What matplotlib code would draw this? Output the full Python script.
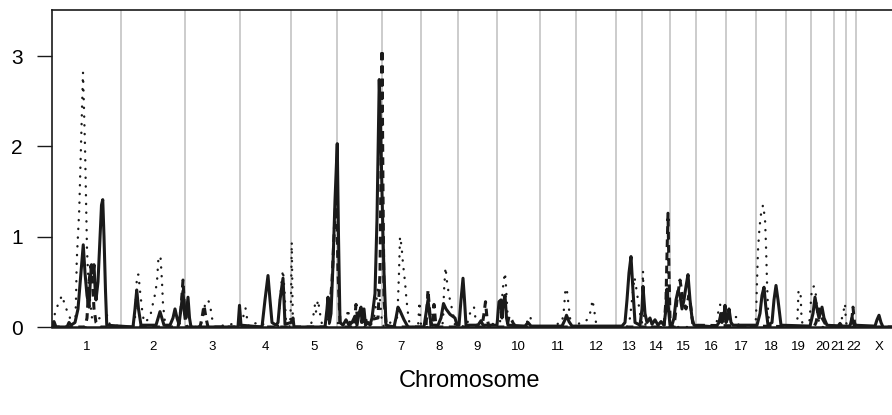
import matplotlib
matplotlib.use("Agg")
import matplotlib.pyplot as plt
import numpy as np

plt.rcParams['font.family'] = ['Liberation Sans Narrow', 'Liberation Sans', 'DejaVu Sans']

# chromosome names and genetic lengths (cM)
chroms = ['1', '2', '3', '4', '5', '6', '7', '8', '9', '10', '11', '12',
          '13', '14', '15', '16', '17', '18', '19', '20', '21', '22', 'X']
chrom_len = [276, 256, 220, 204, 184, 180, 156, 148, 156, 172, 144, 160,
             104, 112, 104, 120, 120, 120, 100, 92, 48, 40, 184]

# LOD curves along the genome (cumulative cM)
solid_pos = [0, 8, 16, 60, 68, 76, 92, 104, 116, 125, 132, 140, 148, 154, 158, 164, 168, 172, 176,
             184, 192, 198, 203, 208, 214, 219,
             324, 332, 339, 346, 356, 416, 432, 448, 472, 484, 492, 500, 508, 516, 524, 530, 536,
             544, 550, 556, 744, 750, 756,
             840, 852, 864, 872, 880, 896, 904, 912, 924, 928, 932,
             956, 964, 968, 1092, 1100, 1104, 1110, 1116, 1124, 1132, 1141, 1146, 1152,
             1164, 1176, 1188, 1200, 1212, 1220, 1228, 1236, 1240, 1248, 1254, 1264, 1272, 1280,
             1292, 1300, 1309, 1316, 1324, 1328, 1336,
             1368, 1376, 1384, 1392, 1408, 1424,
             1488, 1496, 1504, 1512, 1520, 1544, 1556, 1566, 1576, 1592, 1612, 1620,
             1628, 1636, 1644, 1650, 1656, 1704, 1716, 1724,
             1780, 1788, 1796, 1800, 1804, 1812, 1818, 1824, 1892, 1904, 1916,
             2040, 2052, 2058, 2068, 2080,
             2280, 2292, 2300, 2308, 2316, 2324, 2332, 2352, 2360, 2364, 2372, 2380, 2392, 2400,
             2412, 2424, 2436, 2448, 2456, 2460, 2466, 2472,
             2480, 2488, 2496, 2504, 2512, 2520, 2528, 2536, 2544, 2552, 2560, 2568,
             2656, 2668, 2676, 2680, 2688, 2692, 2696, 2704, 2708, 2716, 2724,
             2820, 2832, 2840, 2848, 2856, 2864, 2880, 2888, 2896, 2904, 2916,
             3032, 3044, 3052, 3060, 3068, 3080, 3088, 3100, 3144, 3152, 3160,
             3192, 3200, 3208, 3292, 3300, 3308, 3316, 3324, 3400]
solid_lod = [0, 0.06, 0, 0, 0.05, 0.02, 0.05, 0.2, 0.6, 0.91, 0.6, 0.35, 0.22, 0.55, 0.69, 0.6, 0.69, 0.45, 0.3,
             0.5, 1.0, 1.35, 1.41, 1.0, 0.4, 0.02,
             0, 0.2, 0.41, 0.2, 0.02, 0.02, 0.17, 0.02, 0.02, 0.1, 0.2, 0.1, 0.03, 0.2, 0.4, 0.15, 0.1,
             0.33, 0.1, 0, 0, 0.24, 0.02,
             0, 0.3, 0.57, 0.3, 0.05, 0.02, 0.05, 0.3, 0.54, 0.3, 0.03,
             0.05, 0.1, 0, 0, 0.2, 0.33, 0.05, 0.15, 0.7, 1.4, 2.03, 1.0, 0.05,
             0.02, 0.08, 0.02, 0.05, 0.12, 0.02, 0.15, 0.22, 0.05, 0.2, 0.02, 0.05, 0.02, 0.1,
             0.37, 1.2, 2.74, 2.0, 1.0, 0.6, 0.02,
             0, 0.1, 0.22, 0.18, 0.08, 0,
             0, 0.15, 0.3, 0.1, 0.02, 0.02, 0.1, 0.26, 0.2, 0.14, 0.1, 0.02,
             0.02, 0.3, 0.54, 0.3, 0.02, 0.02, 0.07, 0.02,
             0.02, 0.28, 0.3, 0.1, 0.25, 0.35, 0.1, 0.02, 0.01, 0.05, 0.01,
             0.01, 0.08, 0.13, 0.06, 0.01,
             0.01, 0.05, 0.3, 0.6, 0.78, 0.4, 0.05, 0.02, 0.2, 0.45, 0.15, 0.05, 0.1, 0.03,
             0.08, 0.02, 0.06, 0.02, 0.2, 0.42, 0.2, 0.02,
             0.02, 0.1, 0.3, 0.4, 0.35, 0.2, 0.3, 0.45, 0.58, 0.3, 0.1, 0.02,
             0, 0.05, 0.15, 0.05, 0.12, 0.24, 0.05, 0.1, 0.2, 0.05, 0.02,
             0.02, 0.15, 0.35, 0.44, 0.2, 0.02, 0.05, 0.3, 0.46, 0.3, 0.02,
             0.01, 0.15, 0.33, 0.2, 0.1, 0.22, 0.1, 0.02, 0.01, 0.04, 0.01,
             0.01, 0.1, 0.02, 0.01, 0.08, 0.13, 0.05, 0, 0]

dashed_pos = [0, 132, 140, 148, 156, 162, 168, 176, 192,
              504, 516, 524, 532, 540, 592, 600, 608, 616, 624,
              1096, 1108, 1120, 1128, 1138, 1144, 1152, 1168, 1208, 1216, 1224,
              1304, 1312, 1317, 1320, 1324, 1328, 1336, 1344,
              1496, 1500, 1504, 1510, 1516, 1520, 1528, 1536,
              1720, 1728, 1734, 1740, 1748, 1820, 1828, 1840, 1852,
              2448, 2456, 2460, 2464, 2468, 2472, 2476,
              2488, 2500, 2512, 2524, 2536, 2548, 2556, 2564,
              3048, 3056, 3068, 3080, 3096, 3192, 3200, 3204, 3210, 3216, 3400]
dashed_lod = [0, 0, 0.1, 0.5, 0.68, 0.5, 0.2, 0.05, 0,
              0, 0.2, 0.52, 0.1, 0, 0, 0.1, 0.24, 0.1, 0,
              0, 0.1, 0.5, 1.0, 1.55, 0.6, 0.05, 0, 0, 0.25, 0.05,
              0.1, 0.6, 2.0, 3.07, 1.5, 0.3, 0.05, 0,
              0, 0.2, 0.41, 0.2, 0, 0, 0.25, 0,
              0, 0.15, 0.28, 0.1, 0, 0, 0.12, 0.07, 0,
              0, 0.3, 0.8, 1.26, 0.6, 0.1, 0,
              0, 0.3, 0.52, 0.3, 0.2, 0.35, 0.2, 0.02,
              0, 0.05, 0.2, 0.1, 0.02, 0, 0.1, 0.22, 0.05, 0, 0]

dotted_pos = [0, 12, 24, 40, 52, 64, 72, 84, 94, 96, 99, 109, 116, 124, 128, 132, 136, 140, 146,
              152, 160, 176, 192, 208, 220, 232,
              324, 332, 336, 340, 346, 352, 360, 368, 392, 400, 408, 420, 426, 434, 440, 444, 452, 472,
              592, 604, 612, 624, 632, 640, 648,
              760, 768, 774, 780, 788, 812, 840, 852, 904, 912, 920, 924, 930, 936,
              952, 956, 959, 962, 964, 1032, 1044, 1052, 1056, 1064, 1072, 1080,
              1176, 1184, 1192, 1204, 1272, 1288, 1296, 1304, 1312, 1320, 1328,
              1380, 1384, 1388, 1392, 1398, 1404, 1412, 1418, 1424, 1432,
              1464, 1470, 1474, 1480, 1552, 1564, 1568, 1574, 1580, 1588, 1596, 1604, 1612,
              1656, 1668, 1676, 1688, 1696, 1704,
              1792, 1800, 1806, 1812, 1816, 1820, 1824, 1896, 1904, 1912, 1920, 1928,
              2016, 2024, 2040, 2048, 2054, 2060, 2066, 2072, 2080,
              2096, 2112, 2132, 2148, 2156, 2162, 2168, 2176, 2184,
              2300, 2312, 2324, 2330, 2336, 2344, 2352, 2360, 2364, 2368, 2376,
              2656, 2664, 2672, 2680, 2688, 2700, 2724, 2732, 2740, 2748,
              2812, 2816, 2820, 2824, 2830, 2836, 2844, 2852, 2856, 2860, 2864, 2868, 2876,
              2976, 2982, 2986, 2994, 2998, 3004,
              3028, 3036, 3040, 3048, 3054, 3060, 3068, 3076,
              3152, 3160, 3168, 3172, 3176, 3184, 3400]
dotted_lod = [0.05, 0.15, 0.25, 0.35, 0.24, 0.15, 0.1, 0.08, 0.1, 0.3, 0.74, 1.3, 2.0, 2.82, 2.4, 2.0, 1.41, 0.85, 0.5,
              0.3, 0.1, 0.08, 0.1, 0.1, 0.13, 0.02,
              0, 0.1, 0.35, 0.58, 0.58, 0.4, 0.2, 0.05, 0.1, 0.22, 0.3, 0.5, 0.78, 0.78, 0.5, 0.25, 0.05, 0,
              0, 0.1, 0.25, 0.3, 0.25, 0.1, 0,
              0.05, 0.15, 0.21, 0.1, 0, 0.04, 0.05, 0, 0, 0.3, 0.55, 0.63, 0.4, 0.05,
              0, 0.3, 0.94, 0.3, 0, 0, 0.1, 0.25, 0.17, 0.3, 0.15, 0.03,
              0.05, 0.2, 0.05, 0, 0, 0.1, 0.25, 0.45, 0.3, 0.05, 0,
              0.1, 0.3, 0.6, 1.0, 0.9, 0.7, 0.5, 0.3, 0.15, 0,
              0, 0.28, 0.05, 0, 0, 0.05, 0.4, 0.66, 0.5, 0.35, 0.25, 0.15, 0.02,
              0, 0.1, 0.2, 0.22, 0.05, 0,
              0.05, 0.3, 0.5, 0.6, 0.45, 0.25, 0.05, 0, 0.1, 0.12, 0.05, 0,
              0, 0.04, 0.05, 0.2, 0.43, 0.4, 0.25, 0.1, 0,
              0, 0.05, 0.06, 0.1, 0.2, 0.3, 0.2, 0.05, 0,
              0, 0.1, 0.4, 0.55, 0.45, 0.3, 0.15, 0.05, 0.62, 0.1, 0,
              0, 0.15, 0.25, 0.2, 0.1, 0.02, 0.05, 0.11, 0.11, 0,
              0, 0.1, 0.5, 0.85, 1.1, 1.25, 1.35, 1.2, 0.9, 0.5, 0.2, 0.05, 0,
              0, 0.1, 0.4, 0.4, 0.1, 0,
              0, 0.3, 0.44, 0.45, 0.4, 0.2, 0.05, 0,
              0, 0.1, 0.2, 0.26, 0.05, 0, 0]

starts = np.concatenate([[0], np.cumsum(chrom_len)[:-1]])
mids = starts + np.array(chrom_len) / 2
# nudge the two tiny chromosomes' labels apart so they do not collide
label_pos = mids.copy()
label_pos[chroms.index('21')] -= 10
label_pos[chroms.index('22')] += 10

fig = plt.figure(figsize=(8.92, 4.15), dpi=100)
ax = fig.add_axes([52 / 892, 88 / 415, 1 - 52 / 892, 317 / 415])

for s in starts[1:]:
    ax.axvline(s, color='#c8c8c8', lw=1.3, zorder=1)

ink = '#1a1a1a'
ax.plot(dotted_pos, dotted_lod, color=ink, lw=1.7, linestyle=(0, (0.1, 3.6)),
        dash_capstyle='round', zorder=2)
ax.plot(dashed_pos, dashed_lod, color=ink, lw=2.2, linestyle=(0, (2.5, 1.8)), zorder=3)
ax.plot(solid_pos, solid_lod, color=ink, lw=2.2, zorder=4)

ax.set_xlim(0, 3360)
ax.set_ylim(0, 3.51)
ax.set_yticks([0, 1, 2, 3])
ax.set_yticklabels(['0', '1', '2', '3'], fontsize=15)
ax.set_xticks(label_pos)
ax.set_xticklabels(chroms, fontsize=9.5)
ax.tick_params(axis='y', length=11, width=1, pad=10, color=ink)
ax.tick_params(axis='x', length=0, pad=10)

ax.spines['right'].set_visible(False)
for side in ['left', 'top', 'bottom']:
    ax.spines[side].set_color(ink)
    ax.spines[side].set_linewidth(1.2)
ax.spines['bottom'].set_linewidth(1.8)

fig.text(470 / 892, 1 - 381 / 415, 'Chromosome', ha='center', va='center', fontsize=17)

fig.savefig('out.png', dpi=100)
